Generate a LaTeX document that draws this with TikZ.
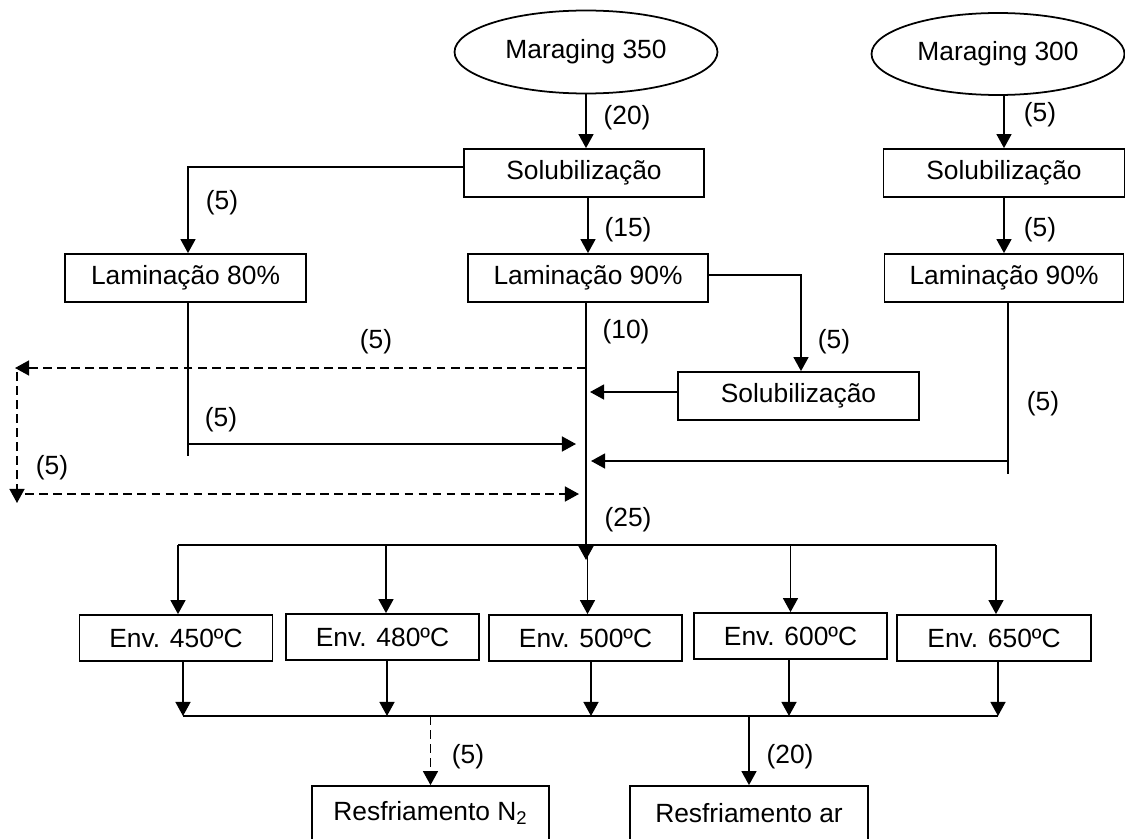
\documentclass[tikz,border=0pt]{standalone}
\usepackage{fontspec}
\setmainfont{Liberation Sans}
\usetikzlibrary{shapes.geometric,arrows.meta,calc}
\begin{document}
\begin{tikzpicture}[x=0.02cm,y=-0.02cm,
  font=\fontsize{15}{18}\selectfont,
  line width=1pt,
  box/.style={draw,rectangle,inner sep=0pt,minimum height=0.96cm},
  ebox/.style={draw,rectangle,inner sep=0pt,minimum height=0.92cm,minimum width=3.86cm},
  oval/.style={draw,ellipse,inner sep=0pt},
  arr/.style={-{Triangle[length=8pt,width=8.5pt]}},
  dsh/.style={dash pattern=on 5pt off 3pt},
  lbl/.style={inner sep=0pt}]
\useasboundingbox (0,0) rectangle (1125,838);
\clip (0,0) rectangle (1125,838);
% nodes
\node[oval,minimum width=5.26cm,minimum height=1.66cm] (m350) at (586,52) {Maraging 350};
\node[oval,minimum width=5.06cm,minimum height=1.64cm] (m300) at (998,54) {Maraging 300};
\node[box,minimum width=4.8cm] (s1) at (584,173) {Solubilização};
\node[box,minimum width=4.82cm] (l80) at (185.5,278) {Laminação 80\%};
\node[box,minimum width=4.8cm] (l90) at (588,278) {Laminação 90\%};
\node[box,minimum width=4.82cm] (s3) at (1004,173) {Solubilização};
\node[box,minimum width=4.78cm] (l90b) at (1004,278) {Laminação 90\%};
\node[box,minimum width=4.82cm] (s2) at (798.5,396) {Solubilização};
\node[ebox] (e450) at (176,638) {Env. 450ºC};
\node[ebox] (e480) at (382.5,637) {Env. 480ºC};
\node[ebox] (e500) at (585.5,638) {Env. 500ºC};
\node[ebox] (e600) at (790.5,636) {Env. 600ºC};
\node[ebox,minimum width=3.88cm] (e650) at (994,638) {Env. 650ºC};
\node[box,minimum width=4.74cm,minimum height=1.2cm] (rn2) at (430.5,816) {};
\node (rn2t) at (430.5,813) {Resfriamento N\textsubscript{2}};
\node[box,minimum width=4.76cm,minimum height=1.2cm] (rar) at (749,816) {};
\node (rart) at (749,813) {Resfriamento ar};
% coordinates
\coordinate (j) at (586,545);
\coordinate (jt) at (586,560);
\coordinate (c) at (0,716);
\coordinate (dA) at (586,368);
\coordinate (dB) at (15,368);
\coordinate (dC) at (17,372);
\coordinate (dD) at (17,503);
\coordinate (dE) at (25,494);
\coordinate (dF) at (579,494);
\coordinate (a80) at (188,302);
\coordinate (a80e) at (188,456);
\coordinate (h80) at (188,444);
\coordinate (h80t) at (576,444);
\coordinate (a90) at (1008,302);
\coordinate (a90e) at (1008,474);
\coordinate (h90) at (1008,461);
\coordinate (h90t) at (591,461);
\coordinate (s2t) at (590,392);
% connectors
\draw[arr] (m350.south) -- (m350.south |- s1.north);
\draw[arr] ([yshift=0.12cm]s1.west) -| ([xshift=0.05cm]l80.north);
\draw[arr] (l90.north |- s1.south) -- (l90.north);
\draw[arr] ([yshift=0.06cm]l90.east) -| ([xshift=0.05cm]s2.north);
\draw[arr] (s3.north |- m300.south) -- (s3.north);
\draw[arr] (s3.south) -- (l90b.north);
\draw[arr] (l90.south -| j) -- (jt);
\draw[arr,dsh] (dA) -- (dB);
\draw[arr,dsh] (dC) -- (dD);
\draw[arr,dsh] (dE) -- (dF);
\draw (a80) -- (a80e);
\draw[arr] (h80) -- (h80t);
\draw (a90) -- (a90e);
\draw[arr] (h90) -- (h90t);
\draw[arr] ([yshift=0.08cm]s2.west) -- (s2t);
% distribution
\draw ([xshift=0.04cm]e450.north |- j) -- ([xshift=0.04cm]e650.north |- j);
\foreach \n/\s in {e450/0.04,e480/0.07,e500/0.04,e600/0,e650/0.04}{
  \draw[arr] ([xshift=\s cm]\n.north |- j) -- ([xshift=\s cm]\n.north);
}
% collection
\foreach \n/\s in {e450/0.14,e480/0.09,e500/0.11,e600/-0.03,e650/0.08}{
  \draw[arr] ([xshift=\s cm]\n.south) -- ([xshift=\s cm]\n.south |- c);
}
\draw ([xshift=0.14cm]e450.south |- c) -- ([xshift=0.08cm]e650.south |- c);
\draw[arr,dsh] (rn2.north |- c) -- (rn2.north);
\draw[arr] (rar.north |- c) -- (rar.north);
% labels
\node[lbl] (L1) at (627,118) {(20)};
\node[lbl] (L2) at (222,203) {(5)};
\node[lbl] (L3) at (628,230) {(15)};
\node[lbl] (L4) at (834,342) {(5)};
\node[lbl] (L5) at (1040,115) {(5)};
\node[lbl] (L6) at (1040,230) {(5)};
\node[lbl] (L7) at (1043,404) {(5)};
\node[lbl] (L8) at (221,420) {(5)};
\node[lbl] (L9) at (376,342) {(5)};
\node[lbl] (L10) at (52,468) {(5)};
\node[lbl] (L11) at (626,332) {(10)};
\node[lbl] (L12) at (628,520) {(25)};
\node[lbl] (L13) at (468,757) {(5)};
\node[lbl] (L14) at (790,757) {(20)};
\end{tikzpicture}
\end{document}
